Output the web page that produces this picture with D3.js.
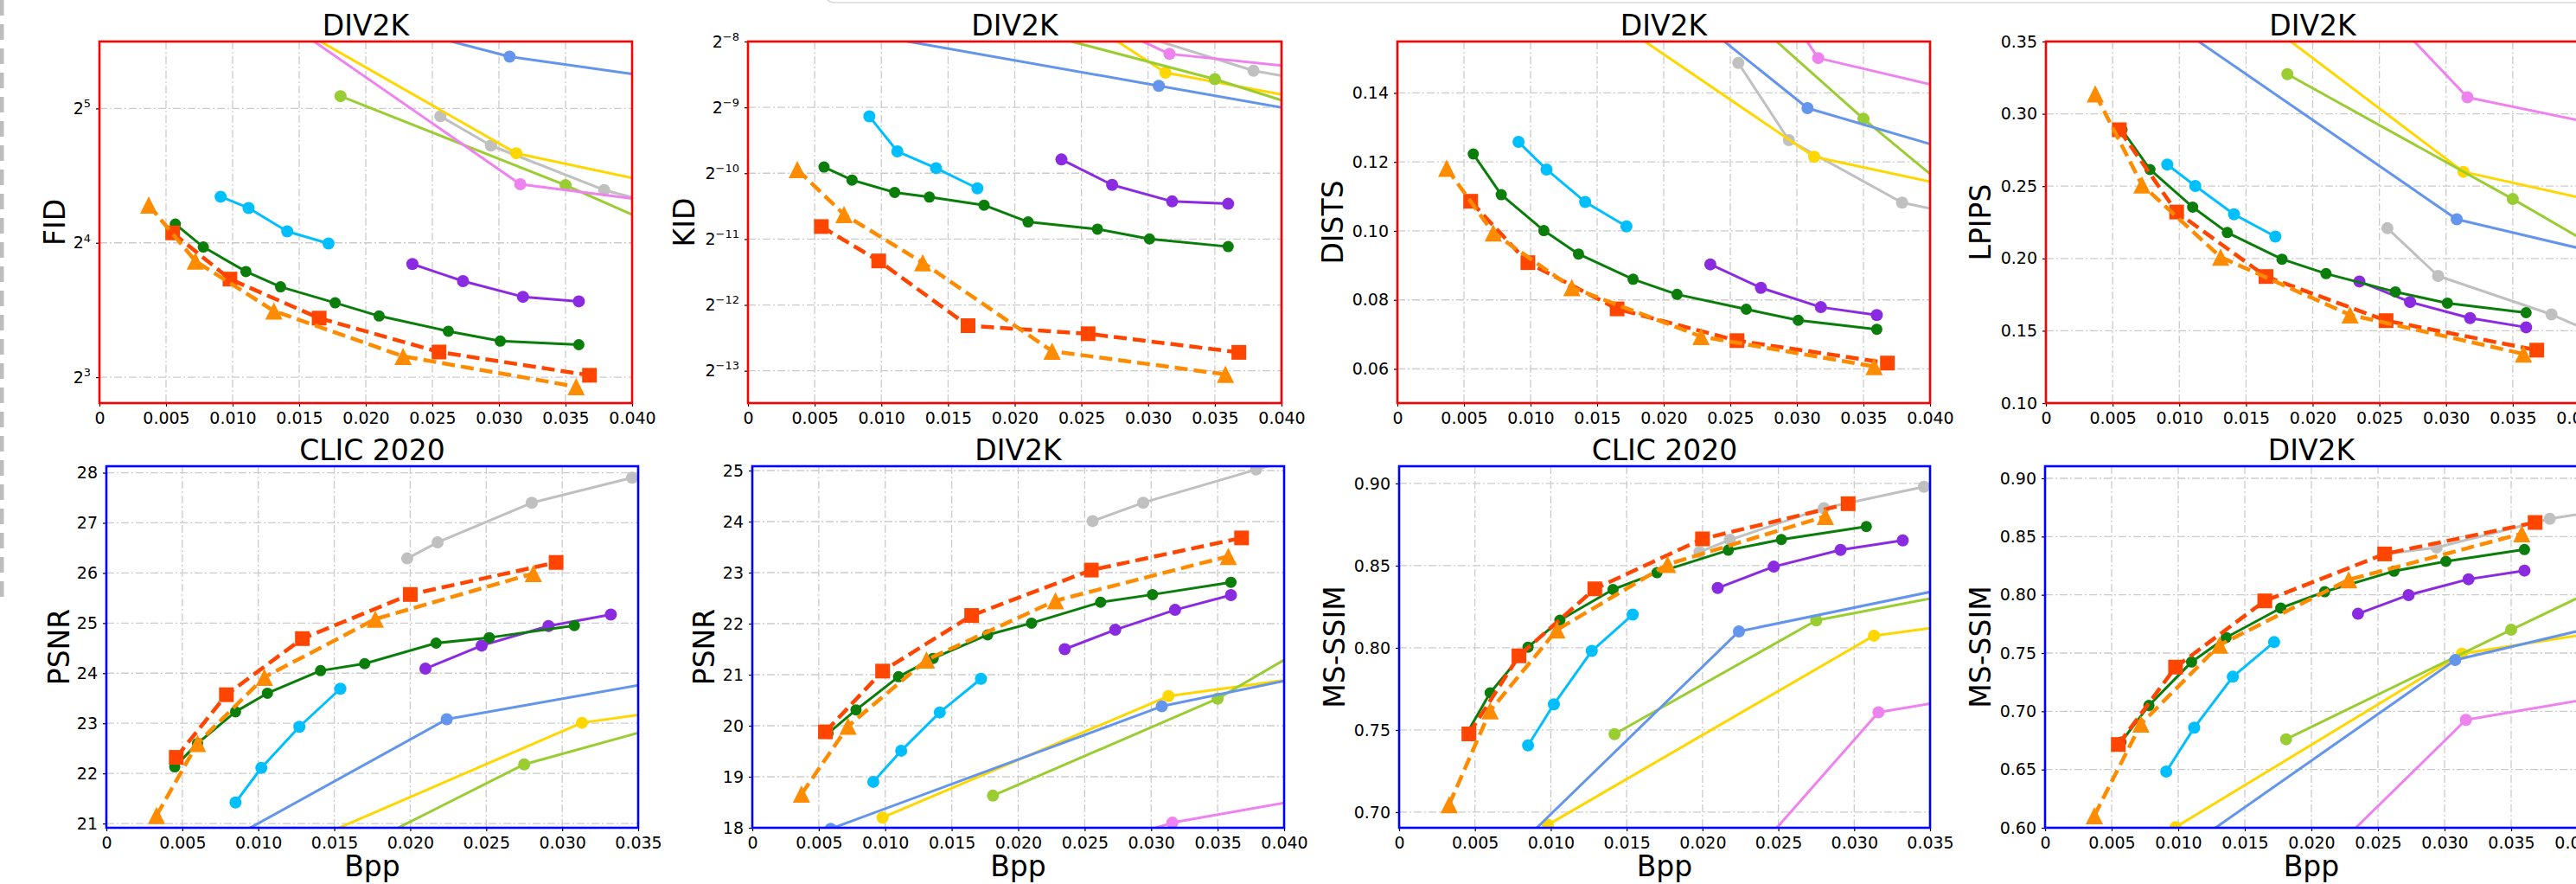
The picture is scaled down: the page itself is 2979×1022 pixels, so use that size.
<!DOCTYPE html>
<html lang="en">
<head>
<meta charset="utf-8">
<title>Rate-distortion curves</title>
<script src="https://d3js.org/d3.v7.min.js"></script>
<style>
  body { margin: 0; background: #ffffff; }
  text { font-family: "DejaVu Sans", sans-serif; fill: #000; }
</style>
</head>
<body>
<script>
// 1. data (points outside the axes only steer the clipped lines)

const xTicksDiv = [0, 0.005, 0.010, 0.015, 0.020, 0.025, 0.030, 0.035, 0.040];
const xTicksClic = [0, 0.005, 0.010, 0.015, 0.020, 0.025, 0.030, 0.035];

const bppDiv = {
  gray: [0.0256, 0.0294, 0.0379, 0.05],
  gold: [0.0098, 0.0313, 0.05],
  yellowgreen: [0.0181, 0.035, 0.05],
  blue: [0.0059, 0.0308, 0.05],
  violet: [0.012, 0.0316, 0.05],
  sky: [0.0091, 0.0112, 0.0141, 0.0172],
  purple: [0.0235, 0.0273, 0.0318, 0.036],
  green: [0.0057, 0.0078, 0.0110, 0.0136, 0.0177, 0.0210, 0.0262, 0.0301, 0.0360],
  red: [0.0055, 0.0098, 0.0165, 0.0255, 0.0368],
  orange: [0.0037, 0.0072, 0.0131, 0.0228, 0.0358]
};

const bppClic = {
  gray: [0.0198, 0.0218, 0.0280, 0.0346],
  gold: [0.0098, 0.0313, 0.045],
  yellowgreen: [0.0142, 0.0275, 0.045],
  blue: [0.0058, 0.0224, 0.045],
  violet: [0.012, 0.0316, 0.045],
  sky: [0.0085, 0.0102, 0.0127, 0.0154],
  purple: [0.0210, 0.0247, 0.0291, 0.0332],
  green: [0.0045, 0.0060, 0.0085, 0.0106, 0.0141, 0.0170, 0.0217, 0.0252, 0.0308],
  red: [0.0046, 0.0079, 0.0129, 0.0200, 0.0296],
  orange: [0.0033, 0.0060, 0.0104, 0.0177, 0.0281]
};

const fidDiv = {
  gray: [30.74, 26.43, 21.01, 16.9],
  gold: [59.0, 25.4, 19.3],
  yellowgreen: [34.1, 21.54, 13.66],
  blue: [65.4, 41.8, 34.7],
  violet: [55.0, 21.65, 18.4],
  sky: [20.3, 19.15, 16.97, 15.95],
  purple: [14.34, 13.13, 12.11, 11.83],
  green: [17.62, 15.66, 13.80, 12.75, 11.74, 10.97, 10.14, 9.64, 9.46],
  red: [16.84, 13.27, 10.85, 9.11, 8.08],
  orange: [19.44, 14.57, 11.26, 8.91, 7.62]
};

const kidDiv = {
  gray: [0.0055, 0.00417, 0.002874, 0.00213],
  gold: [0.02012, 0.002812, 0.001722],
  yellowgreen: [0.0049, 0.00263, 0.001352],
  blue: [0.004544, 0.002451, 0.001525],
  violet: [0.01237, 0.003427, 0.002628],
  sky: [0.001776, 0.001229, 0.001030, 0.000833],
  purple: [0.001129, 0.000864, 0.000726, 0.000708],
  green: [0.001043, 0.000909, 0.000798, 0.000760, 0.000698, 0.000585, 0.000542, 0.000489, 0.000451],
  red: [0.000557, 0.000388, 0.0001963, 0.0001803, 0.0001482],
  orange: [0.001015, 0.000633, 0.000381, 0.0001501, 0.0001175]
};

const distsDiv = {
  gray: [0.1487, 0.1263, 0.1082, 0.0984],
  gold: [0.178, 0.1215, 0.106],
  yellowgreen: [0.1906, 0.1325, 0.0845],
  blue: [0.2126, 0.1356, 0.1139],
  violet: [0.263, 0.1501, 0.1334],
  sky: [0.1258, 0.1178, 0.1084, 0.1013],
  purple: [0.0903, 0.0835, 0.0779, 0.0756],
  green: [0.1223, 0.1105, 0.1001, 0.0933, 0.0860, 0.0816, 0.0773, 0.0741, 0.0715],
  red: [0.1086, 0.0908, 0.0774, 0.0682, 0.0617],
  orange: [0.1182, 0.0994, 0.0836, 0.0694, 0.0607]
};

const lpipsDiv = {
  gray: [0.2209, 0.1879, 0.1613, 0.113],
  gold: [0.4096, 0.2599, 0.2216],
  yellowgreen: [0.3274, 0.2411, 0.161],
  blue: [0.3853, 0.2271, 0.1852],
  violet: [0.5015, 0.3114, 0.2764],
  sky: [0.2649, 0.2501, 0.2305, 0.2151],
  purple: [0.1841, 0.1699, 0.1588, 0.1524],
  green: [0.289, 0.2615, 0.2355, 0.2179, 0.1995, 0.1895, 0.1769, 0.1691, 0.1625],
  red: [0.2890, 0.2321, 0.1875, 0.1570, 0.1366],
  orange: [0.3138, 0.2509, 0.2009, 0.1610, 0.1340]
};

const psnrClic = {
  gray: [26.29, 26.61, 27.4, 27.9],
  gold: [20.19, 23.01, 23.6],
  yellowgreen: [20.15, 22.18, 23.65],
  blue: [20.30, 23.08, 24.30],
  violet: [19.0, 20.4, 20.8],
  sky: [21.42, 22.11, 22.93, 23.69],
  purple: [24.09, 24.55, 24.94, 25.17],
  green: [22.13, 22.6, 23.23, 23.6, 24.05, 24.19, 24.6, 24.71, 24.95],
  red: [22.32, 23.57, 24.69, 25.57, 26.21],
  orange: [21.16, 22.6, 23.92, 25.08, 25.99]
};

const psnrDiv = {
  gray: [24.01, 24.37, 25.02, 25.95],
  gold: [18.2, 20.58, 21.25],
  yellowgreen: [18.63, 20.53, 22.81],
  blue: [17.98, 20.38, 21.42],
  violet: [16.5, 18.1, 18.95],
  sky: [18.9, 19.51, 20.26, 20.92],
  purple: [21.5, 21.88, 22.27, 22.56],
  green: [19.85, 20.31, 20.96, 21.32, 21.78, 22.01, 22.42, 22.57, 22.81],
  red: [19.88, 21.07, 22.16, 23.05, 23.68],
  orange: [18.66, 19.99, 21.29, 22.45, 23.32]
};

const msssimClic = {
  gray: [0.8583, 0.8657, 0.885, 0.898],
  gold: [0.6923, 0.8074, 0.8244],
  yellowgreen: [0.7475, 0.8167, 0.8477],
  blue: [0.6611, 0.81, 0.853],
  violet: [0.5552, 0.7608, 0.7813],
  sky: [0.7406, 0.7656, 0.7981, 0.8202],
  purple: [0.8364, 0.8494, 0.8596, 0.8654],
  green: [0.7485, 0.7726, 0.8004, 0.8168, 0.8355, 0.8457, 0.8594, 0.8659, 0.8738],
  red: [0.7476, 0.7951, 0.8359, 0.8663, 0.8877],
  orange: [0.7046, 0.7617, 0.8109, 0.8508, 0.88]
};

const msssimDiv = {
  gray: [0.835, 0.8406, 0.8653, 0.887],
  gold: [0.6005, 0.7495, 0.783],
  yellowgreen: [0.676, 0.77, 0.852],
  blue: [0.5448, 0.744, 0.7958],
  violet: [0.4729, 0.6926, 0.7285],
  sky: [0.6483, 0.6859, 0.7297, 0.7594],
  purple: [0.7837, 0.7998, 0.8134, 0.8208],
  green: [0.6735, 0.705, 0.7423, 0.7634, 0.7886, 0.8027, 0.8203, 0.8287, 0.8389],
  red: [0.6715, 0.7379, 0.7948, 0.8351, 0.8621],
  orange: [0.6104, 0.6891, 0.7569, 0.8129, 0.8525]
};

// y ticks per panel
const fidTicks = [8, 16, 32];
const kidTicks = [1/256, 1/512, 1/1024, 1/2048, 1/4096, 1/8192];
const distsTicks = [0.06, 0.08, 0.10, 0.12, 0.14];
const lpipsTicks = [0.10, 0.15, 0.20, 0.25, 0.30, 0.35];
const psnrClicTicks = [21, 22, 23, 24, 25, 26, 27, 28];
const psnrDivTicks = [18, 19, 20, 21, 22, 23, 24, 25];
const msssimClicTicks = [0.70, 0.75, 0.80, 0.85, 0.90];
const msssimDivTicks = [0.60, 0.65, 0.70, 0.75, 0.80, 0.85, 0.90];

// draw order (back to front)
const order = ["gray", "gold", "yellowgreen", "blue", "violet", "sky", "purple", "green", "red", "orange"];

const styles = {
  gray:        { color: "#c0c0c0", marker: "circle", r: 7, width: 3 },
  gold:        { color: "#ffd700", marker: "circle", r: 7, width: 3 },
  yellowgreen: { color: "#9acd32", marker: "circle", r: 7, width: 3 },
  blue:        { color: "#6495ed", marker: "circle", r: 7, width: 3 },
  violet:      { color: "#ee82ee", marker: "circle", r: 7, width: 3 },
  sky:         { color: "#00bfff", marker: "circle", r: 7, width: 3 },
  purple:      { color: "#8a2be2", marker: "circle", r: 7, width: 3 },
  green:       { color: "#0a7d0a", marker: "circle", r: 6.5, width: 3 },
  red:         { color: "#ff4500", marker: "square", r: 8.5, width: 4.5, dash: "15,7" },
  orange:      { color: "#ff8c00", marker: "triangle", r: 10, width: 4.5, dash: "15,7" }
};

// 2. layout of the eight panels
const panels = [
  { title: "DIV2K", label: "FID", vals: fidDiv, bpp: bppDiv, log: true, yDom: [7.0, 45.2], yTicks: fidTicks,
    x: 115, y: 48, w: 616, h: 418, xMax: 0.04, xTicks: xTicksDiv, frame: "#ff0000", labOff: 40, bpp_label: false },
  { title: "DIV2K", label: "KID", vals: kidDiv, bpp: bppDiv, log: true, yDom: [0.0000869, 0.003906], yTicks: kidTicks,
    x: 865, y: 48, w: 617, h: 418, xMax: 0.04, xTicks: xTicksDiv, frame: "#ff0000", labOff: 62, bpp_label: false },
  { title: "DIV2K", label: "DISTS", vals: distsDiv, bpp: bppDiv, log: false, yDom: [0.0501, 0.1549], yTicks: distsTicks, fmt: ".2f",
    x: 1616, y: 48, w: 616, h: 418, xMax: 0.04, xTicks: xTicksDiv, frame: "#ff0000", labOff: 63, bpp_label: false },
  { title: "DIV2K", label: "LPIPS", vals: lpipsDiv, bpp: bppDiv, log: false, yDom: [0.10, 0.35], yTicks: lpipsTicks, fmt: ".2f",
    x: 2366, y: 48, w: 617, h: 418, xMax: 0.04, xTicks: xTicksDiv, frame: "#ff0000", labOff: 64, bpp_label: false },
  { title: "CLIC 2020", label: "PSNR", vals: psnrClic, bpp: bppClic, log: false, yDom: [20.915, 28.13], yTicks: psnrClicTicks, fmt: "d",
    x: 123, y: 539, w: 615, h: 418, xMax: 0.035, xTicks: xTicksClic, frame: "#0000ff", labOff: 43, bpp_label: true },
  { title: "DIV2K", label: "PSNR", vals: psnrDiv, bpp: bppDiv, log: false, yDom: [18.0, 25.085], yTicks: psnrDivTicks, fmt: "d",
    x: 870, y: 539, w: 615, h: 418, xMax: 0.04, xTicks: xTicksDiv, frame: "#0000ff", labOff: 44, bpp_label: true },
  { title: "CLIC 2020", label: "MS-SSIM", vals: msssimClic, bpp: bppClic, log: false, yDom: [0.6905, 0.9105], yTicks: msssimClicTicks, fmt: ".2f",
    x: 1618, y: 539, w: 614, h: 418, xMax: 0.035, xTicks: xTicksClic, frame: "#0000ff", labOff: 63, bpp_label: true },
  { title: "DIV2K", label: "MS-SSIM", vals: msssimDiv, bpp: bppDiv, log: false, yDom: [0.60, 0.9104], yTicks: msssimDivTicks, fmt: ".2f",
    x: 2365, y: 539, w: 616, h: 418, xMax: 0.04, xTicks: xTicksDiv, frame: "#0000ff", labOff: 63, bpp_label: true }
];

// 3. svg
const svgWidth = 2979;
const svgHeight = 1022;

const svg = d3.select("body")
  .append("svg")
  .attr("width", svgWidth)
  .attr("height", svgHeight);

svg.append("rect")
  .attr("width", svgWidth)
  .attr("height", svgHeight)
  .attr("fill", "#ffffff");

// leftover page decorations at the edges
svg.append("line")
  .attr("x1", 2).attr("x2", 2)
  .attr("y1", 0).attr("y2", 697)
  .attr("stroke", "#bdbdbd")
  .attr("stroke-width", 5)
  .attr("stroke-dasharray", "18,10");

svg.append("path")
  .attr("d", "M953,-12 Q953,3 966,3 L2979,3")
  .attr("fill", "none")
  .attr("stroke", "#d9d9d9")
  .attr("stroke-width", 1.5);

const tri = r => `M0,${-r}L${-r},${r}L${r},${r}Z`;
const xFmt = d => d === 0 ? "0" : d3.format(".3f")(d);

// 4. panels
panels.forEach((p, i) => {
  const g = svg.append("g").attr("transform", `translate(${p.x},${p.y})`);

  const xScale = d3.scaleLinear().domain([0, p.xMax]).range([0, p.w]);
  const yScale = (p.log ? d3.scaleLog().base(2) : d3.scaleLinear())
    .domain(p.yDom)
    .range([p.h, 0]);

  g.append("clipPath").attr("id", "clip" + i)
    .append("rect").attr("width", p.w).attr("height", p.h);

  // grid
  const grid = g.append("g")
    .attr("stroke", "#cbcbcb")
    .attr("stroke-width", 1.3)
    .attr("stroke-dasharray", "9,3,2,3");
  grid.selectAll("line.gx")
    .data(p.xTicks.filter(d => d > 0 && d < p.xMax))
    .enter().append("line")
    .attr("x1", d => xScale(d)).attr("x2", d => xScale(d))
    .attr("y1", 0).attr("y2", p.h);
  grid.selectAll("line.gy")
    .data(p.yTicks.filter(d => yScale(d) > 1 && yScale(d) < p.h - 1))
    .enter().append("line")
    .attr("x1", 0).attr("x2", p.w)
    .attr("y1", d => yScale(d)).attr("y2", d => yScale(d));

  // series
  const plot = g.append("g").attr("clip-path", `url(#clip${i})`);
  const line = d3.line().x(d => xScale(d[0])).y(d => yScale(d[1]));

  order.forEach(key => {
    const s = styles[key];
    const pts = p.bpp[key].map((b, j) => [b, p.vals[key][j]]);

    plot.append("path")
      .datum(pts)
      .attr("d", line)
      .attr("fill", "none")
      .attr("stroke", s.color)
      .attr("stroke-width", s.width)
      .attr("stroke-linejoin", "round")
      .attr("stroke-dasharray", s.dash || null);

    const m = plot.selectAll(null).data(pts).enter();
    if (s.marker === "circle") {
      m.append("circle")
        .attr("cx", d => xScale(d[0]))
        .attr("cy", d => yScale(d[1]))
        .attr("r", s.r)
        .attr("fill", s.color);
    } else if (s.marker === "square") {
      m.append("rect")
        .attr("x", d => xScale(d[0]) - s.r)
        .attr("y", d => yScale(d[1]) - s.r)
        .attr("width", 2 * s.r)
        .attr("height", 2 * s.r)
        .attr("fill", s.color);
    } else {
      m.append("path")
        .attr("transform", d => `translate(${xScale(d[0])},${yScale(d[1])})`)
        .attr("d", tri(s.r))
        .attr("fill", s.color);
    }
  });

  // axes
  const bottomAxis = d3.axisBottom(xScale)
    .tickValues(p.xTicks)
    .tickSize(4)
    .tickPadding(6.5)
    .tickFormat(xFmt);
  const gx = g.append("g")
    .attr("transform", `translate(0,${p.h})`)
    .call(bottomAxis);

  const leftAxis = d3.axisLeft(yScale)
    .tickValues(p.yTicks)
    .tickSize(4)
    .tickPadding(6)
    .tickFormat(p.log ? (() => "") : d3.format(p.fmt));
  const gy = g.append("g").call(leftAxis);

  [gx, gy].forEach(a => {
    a.select(".domain").remove();
    a.selectAll(".tick line").attr("stroke", "#000").attr("stroke-width", 1.2);
    a.selectAll("text")
      .attr("font-family", "DejaVu Sans")
      .attr("font-size", 19)
      .attr("fill", "#000");
  });

  // powers of two on log axes
  if (p.log) {
    gy.selectAll(".tick text").each(function(d) {
      const e = Math.round(Math.log2(d));
      const t = d3.select(this);
      t.append("tspan").text("2");
      t.append("tspan")
        .attr("font-size", 13)
        .attr("dy", "-0.6em")
        .text(e < 0 ? "\u2212" + (-e) : String(e));
    });
  }

  // frame
  g.append("rect")
    .attr("width", p.w)
    .attr("height", p.h)
    .attr("fill", "none")
    .attr("stroke", p.frame)
    .attr("stroke-width", 2.6);

  // title and labels
  g.append("text")
    .attr("x", p.w / 2)
    .attr("y", -7)
    .attr("text-anchor", "middle")
    .attr("font-size", 33)
    .text(p.title);

  g.append("text")
    .attr("transform", `translate(${-p.labOff},${p.h / 2}) rotate(-90)`)
    .attr("text-anchor", "middle")
    .attr("font-size", 33)
    .text(p.label);

  if (p.bpp_label) {
    g.append("text")
      .attr("x", p.w / 2)
      .attr("y", p.h + 56)
      .attr("text-anchor", "middle")
      .attr("font-size", 33)
      .text("Bpp");
  }
});
</script>
</body>
</html>
